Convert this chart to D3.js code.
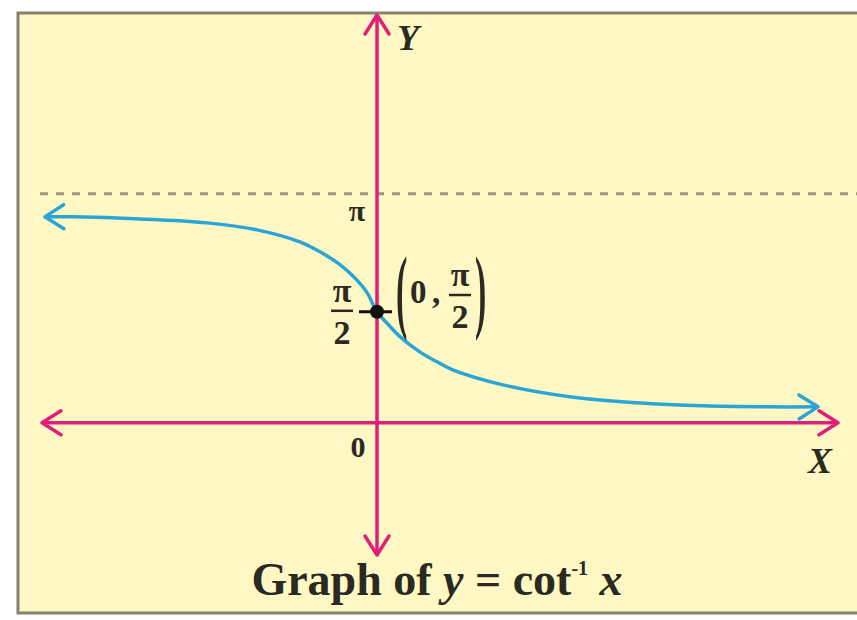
<!DOCTYPE html>
<html>
<head>
<meta charset="utf-8">
<script src="https://cdn.jsdelivr.net/npm/d3@7"></script>
<style>
  html, body { margin: 0; padding: 0; background: #ffffff; }
  svg { display: block; }
  .lbl { font-family: "Liberation Serif", "Times New Roman", Times, serif; font-weight: bold; fill: #2a2a22; }
</style>
</head>
<body>
<svg id="chart"></svg>
<script>
// Curve points (x in plot units, y in radians)
const curveX = [-4.43, -4.05, -3.16, -2.27, -1.60, -1.03, -0.76, -0.49, -0.27, -0.13, 0, 0.13, 0.31, 0.57, 0.80, 1.01, 1.68, 2.57, 3.47, 4.35, 5.24, 5.88]
const curveY = [2.914, 2.914, 2.885, 2.829, 2.730, 2.560, 2.419, 2.235, 2.023, 1.839, 1.571, 1.414, 1.216, 1.004, 0.863, 0.750, 0.537, 0.368, 0.283, 0.240, 0.226, 0.226]

// Axis extents and marked values
const xExtent = [-4.467, 6.147]
const yExtent = [-1.87, 5.77]
const asymptote = 3.24
const tickPi = Math.PI
const tickHalfPi = Math.PI / 2
const markedPoint = [0, Math.PI / 2]

const width = 857
const height = 620

const svg = d3.select('#chart')
    .attr('width', width)
    .attr('height', height)

// Scales
let scale = {
    x: d3.scaleLinear().domain(xExtent).range([42, 838]),
    y: d3.scaleLinear().domain(yExtent).range([555, 15])
}

// Frame
svg.append('rect')
    .attr('x', 18)
    .attr('y', 13)
    .attr('width', width + 20)
    .attr('height', 600)
    .attr('fill', '#fff7c4')
    .attr('stroke', '#85826f')
    .attr('stroke-width', 3)

// Arrow markers
let defs = svg.append('defs')
function addMarker(id, color) {
    defs.append('marker')
        .attr('id', id)
        .attr('markerUnits', 'userSpaceOnUse')
        .attr('viewBox', '-24 -16 28 32')
        .attr('refX', 0)
        .attr('refY', 0)
        .attr('markerWidth', 28)
        .attr('markerHeight', 32)
        .attr('orient', 'auto-start-reverse')
        .append('path')
        .attr('d', 'M-19,-12 L0,0 L-19,12')
        .attr('fill', 'none')
        .attr('stroke', color)
        .attr('stroke-width', 3.5)
        .attr('stroke-linecap', 'round')
        .attr('stroke-linejoin', 'round')
}
addMarker('arrowAxis', '#e01f7b')
addMarker('arrowCurve', '#2aa5d6')

// Asymptote (dashed, drawn at y = pi in the picture)
svg.append('line')
    .attr('x1', 40)
    .attr('x2', width)
    .attr('y1', scale.y(asymptote))
    .attr('y2', scale.y(asymptote))
    .attr('stroke', '#9b9782')
    .attr('stroke-width', 3)
    .attr('stroke-dasharray', '8,8')

// X axis
svg.append('line')
    .attr('x1', scale.x(xExtent[0]))
    .attr('x2', scale.x(xExtent[1]))
    .attr('y1', scale.y(0))
    .attr('y2', scale.y(0))
    .attr('stroke', '#e01f7b')
    .attr('stroke-width', 3.5)
    .attr('marker-start', 'url(#arrowAxis)')
    .attr('marker-end', 'url(#arrowAxis)')

// Y axis
svg.append('line')
    .attr('x1', scale.x(0))
    .attr('x2', scale.x(0))
    .attr('y1', scale.y(yExtent[0]))
    .attr('y2', scale.y(yExtent[1]))
    .attr('stroke', '#e01f7b')
    .attr('stroke-width', 3.5)
    .attr('marker-start', 'url(#arrowAxis)')
    .attr('marker-end', 'url(#arrowAxis)')

// Curve
let dataset = curveX.map((x, i) => ({ x: x, y: curveY[i] }))
let line = d3.line()
    .x(d => scale.x(d.x))
    .y(d => scale.y(d.y))
    .curve(d3.curveCatmullRom.alpha(0.5))

svg.append('path')
    .datum(dataset)
    .attr('d', line)
    .attr('fill', 'none')
    .attr('stroke', '#2aa5d6')
    .attr('stroke-width', 3.5)
    .attr('marker-start', 'url(#arrowCurve)')
    .attr('marker-end', 'url(#arrowCurve)')

// Marked point
let px = scale.x(markedPoint[0])
let py = scale.y(markedPoint[1])
svg.append('line')
    .attr('x1', px - 18)
    .attr('x2', px + 15)
    .attr('y1', py)
    .attr('y2', py)
    .attr('stroke', '#111')
    .attr('stroke-width', 3)
svg.append('circle')
    .attr('cx', px)
    .attr('cy', py)
    .attr('r', 7)
    .attr('fill', '#111')

// Axis names
svg.append('text')
    .attr('class', 'lbl')
    .attr('x', 397)
    .attr('y', 50)
    .attr('font-size', 36)
    .attr('font-style', 'italic')
    .text('Y')

svg.append('text')
    .attr('class', 'lbl')
    .attr('x', 808)
    .attr('y', 473)
    .attr('font-size', 36)
    .attr('font-style', 'italic')
    .text('X')

// Origin
svg.append('text')
    .attr('class', 'lbl')
    .attr('x', scale.x(0) - 19)
    .attr('y', scale.y(0) + 34)
    .attr('font-size', 30)
    .attr('text-anchor', 'middle')
    .text('0')

// pi tick label
svg.append('text')
    .attr('class', 'lbl')
    .attr('x', scale.x(0) - 20)
    .attr('y', scale.y(tickPi) + 20)
    .attr('font-size', 30)
    .attr('text-anchor', 'middle')
    .text('π')

// fraction pi/2
function fraction(cx, cy, size) {
    let g = svg.append('g')
    g.append('text')
        .attr('class', 'lbl')
        .attr('x', cx)
        .attr('y', cy - 9)
        .attr('font-size', size)
        .attr('text-anchor', 'middle')
        .text('π')
    g.append('line')
        .attr('x1', cx - 11)
        .attr('x2', cx + 11)
        .attr('y1', cy)
        .attr('y2', cy)
        .attr('stroke', '#2a2a22')
        .attr('stroke-width', 2.5)
    g.append('text')
        .attr('class', 'lbl')
        .attr('x', cx)
        .attr('y', cy + 33)
        .attr('font-size', size)
        .attr('text-anchor', 'middle')
        .text('2')
}
fraction(scale.x(0) - 35, scale.y(tickHalfPi) - 1, 34)

// Point label (0, pi/2)
function paren(x, ch) {
    svg.append('text')
        .attr('class', 'lbl')
        .attr('x', x)
        .attr('y', 321)
        .attr('font-size', 94)
        .attr('font-weight', 'normal')
        .attr('transform', `translate(${x},321) scale(0.36,1) translate(${-x},-321)`)
        .text(ch)
}
paren(396, '(')
svg.append('text')
    .attr('class', 'lbl')
    .attr('x', 410)
    .attr('y', 303)
    .attr('font-size', 33)
    .text('0')
svg.append('text')
    .attr('class', 'lbl')
    .attr('x', 432)
    .attr('y', 303)
    .attr('font-size', 33)
    .text(',')
fraction(460, 295, 34)
paren(475, ')')

// Title
let title = svg.append('text')
    .attr('class', 'lbl')
    .attr('x', 437)
    .attr('y', 595)
    .attr('font-size', 46)
    .attr('text-anchor', 'middle')
title.append('tspan').text('Graph of ')
title.append('tspan').attr('font-style', 'italic').text('y')
title.append('tspan').text(' = cot')
title.append('tspan').attr('font-size', 20).attr('dy', -20).text('-1')
title.append('tspan').attr('dy', 20).text(' ')
title.append('tspan').attr('font-style', 'italic').text('x')
</script>
</body>
</html>
